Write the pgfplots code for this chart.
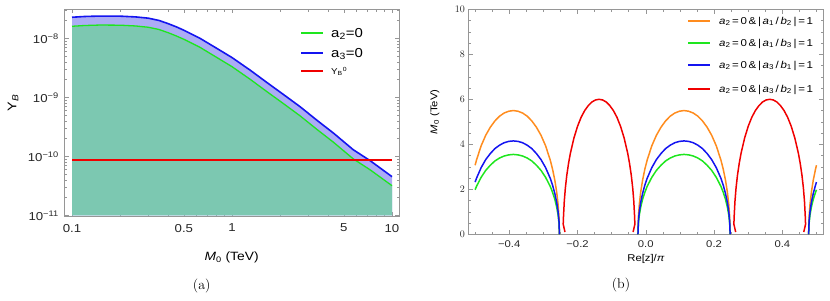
\documentclass[border=0pt]{standalone}
\usepackage{fontspec}
\usepackage{pgfplots}
\usepackage{pgfplotstable}
\pgfplotsset{compat=1.18}
\newfontfamily\af[FakeStretch=1.15]{Liberation Sans}
\definecolor{tealfill}{RGB}{124,200,177}
\definecolor{lavfill}{RGB}{172,172,245}
\definecolor{framegray}{RGB}{150,150,150}
\definecolor{orng}{RGB}{255,140,30}
\definecolor{grn}{RGB}{30,230,30}
\definecolor{blu}{RGB}{20,20,240}
\definecolor{rd}{RGB}{240,0,0}
\newcommand{\lgt}[4]{\textit{a}\textsubscript{2}\,=\,0\,\&\,|\,\textit{#1}\textsubscript{#2}\,/\,\textit{#3}\textsubscript{#4}\,|\,=\,1}

\pgfplotstableread{
x y
0.1 2.29e-8
0.12 2.36e-8
0.15 2.40e-8
0.2 2.39e-8
0.25 2.32e-8
0.3 2.21e-8
0.35 2.02e-8
0.4 1.78e-8
0.45 1.57e-8
0.5 1.38e-8
0.63 1.01e-8
0.8 6.85e-9
1.0 4.75e-9
1.3 2.9e-9
1.65 1.8e-9
2.1 1.12e-9
2.66 7.0e-10
3.4 4.1e-10
4.3 2.5e-10
5.73 1.3e-10
7.3 8.5e-11
10 4.55e-11
}\tblue

\pgfplotstableread{
x y
0.1 1.61e-8
0.12 1.66e-8
0.15 1.69e-8
0.2 1.68e-8
0.25 1.63e-8
0.3 1.55e-8
0.35 1.42e-8
0.4 1.25e-8
0.45 1.10e-8
0.5 9.7e-9
0.63 7.1e-9
0.8 4.8e-9
1.0 3.33e-9
1.3 2.03e-9
1.65 1.26e-9
2.1 7.85e-10
2.66 4.9e-10
3.4 2.87e-10
4.3 1.75e-10
5.73 9.1e-11
7.3 5.95e-11
10 3.2e-11
}\tgreen

\pgfplotstableread{
x o b g
-0.5 3.07 2.32 1.98
-0.496 3.30 2.49 2.13
-0.4825 3.93 2.96 2.53
-0.469 4.40 3.32 2.84
-0.4555 4.76 3.59 3.07
-0.442 5.04 3.81 3.26
-0.4285 5.25 3.96 3.39
-0.415 5.39 4.07 3.48
-0.4015 5.47 4.13 3.53
-0.388 5.50 4.15 3.55
-0.3745 5.47 4.13 3.53
-0.361 5.39 4.07 3.48
-0.3475 5.25 3.96 3.39
-0.334 5.04 3.81 3.26
-0.3205 4.76 3.59 3.07
-0.307 4.40 3.32 2.84
-0.2935 3.93 2.96 2.53
-0.280 3.30 2.49 2.13
-0.27325 2.90 2.19 1.87
-0.2665 2.40 1.81 1.55
-0.2611 1.88 1.42 1.21
-0.25705 1.34 1.01 0.86
-0.25435 0.78 0.59 0.50
-0.253 0 0 0
-0.14 nan nan nan
-0.023 0 0 0
-0.02165 0.78 0.59 0.50
-0.01895 1.34 1.01 0.86
-0.0149 1.88 1.42 1.21
-0.0095 2.40 1.81 1.55
-0.00275 2.90 2.19 1.87
0.004 3.30 2.49 2.13
0.0175 3.93 2.96 2.53
0.031 4.40 3.32 2.84
0.0445 4.76 3.59 3.07
0.058 5.04 3.81 3.26
0.0715 5.25 3.96 3.39
0.085 5.39 4.07 3.48
0.0985 5.47 4.13 3.53
0.112 5.50 4.15 3.55
0.1255 5.47 4.13 3.53
0.139 5.39 4.07 3.48
0.1525 5.25 3.96 3.39
0.166 5.04 3.81 3.26
0.1795 4.76 3.59 3.07
0.193 4.40 3.32 2.84
0.2065 3.93 2.96 2.53
0.220 3.30 2.49 2.13
0.22675 2.90 2.19 1.87
0.2335 2.40 1.81 1.55
0.2389 1.88 1.42 1.21
0.24295 1.34 1.01 0.86
0.24565 0.78 0.59 0.50
0.247 0 0 0
0.36 nan nan nan
0.477 0 0 0
0.47835 0.78 0.59 0.50
0.48105 1.34 1.01 0.86
0.4851 1.88 1.42 1.21
0.4905 2.40 1.81 1.55
0.49725 2.90 2.19 1.87
0.5 3.07 2.32 1.98
}\tobg

\pgfplotstableread{
x r
-0.23675 0.10
-0.242 0.45
-0.24095 0.85
-0.23885 1.46
-0.2357 2.05
-0.2315 2.62
-0.22625 3.16
-0.221 3.60
-0.2105 4.28
-0.2 4.80
-0.1895 5.20
-0.179 5.50
-0.1685 5.72
-0.158 5.88
-0.1475 5.97
-0.137 6.00
-0.1265 5.97
-0.116 5.88
-0.1055 5.72
-0.095 5.50
-0.0845 5.20
-0.074 4.80
-0.0635 4.28
-0.053 3.60
-0.04775 3.16
-0.0425 2.62
-0.0383 2.05
-0.03515 1.46
-0.03305 0.85
-0.032 0.45
-0.03725 0.10
0.1 nan
0.26325 0.10
0.258 0.45
0.25905 0.85
0.26115 1.46
0.2643 2.05
0.2685 2.62
0.27375 3.16
0.279 3.60
0.2895 4.28
0.3 4.80
0.3105 5.20
0.321 5.50
0.3315 5.72
0.342 5.88
0.3525 5.97
0.363 6.00
0.3735 5.97
0.384 5.88
0.3945 5.72
0.405 5.50
0.4155 5.20
0.426 4.80
0.4365 4.28
0.447 3.60
0.45225 3.16
0.4575 2.62
0.4617 2.05
0.46485 1.46
0.46695 0.85
0.468 0.45
0.46275 0.10
}\tred

\begin{document}
\begin{tikzpicture}[x=1pt,y=1pt]
\useasboundingbox (0,0) rectangle (830,300);

% ---------- (a) ----------
\begin{axis}[
  at={(64.3pt,84pt)}, anchor=south west, scale only axis,
  width=334.7pt, height=207pt,
  xmode=log, ymode=log,
  xmin=0.0895, xmax=11.06, ymin=0.98e-11, ymax=3.16e-8,
  axis line style={framegray, line width=0.6pt},
  tick style={framegray, line width=0.5pt},
  major tick length=4.5pt, minor tick length=2.5pt, tick align=inside,
  tick pos=both, xticklabel pos=lower, yticklabel pos=left,
  xtick={0.1,0.5,1,5,10}, xticklabels={0.1,0.5,1,5,10},
  minor xtick={0.2,0.3,0.4,0.6,0.7,0.8,0.9,2,3,4,6,7,8,9},
  ytick={1e-11,1e-10,1e-9,1e-8},
  yticklabels={10\textsuperscript{−11},10\textsuperscript{−10},10\textsuperscript{−9},10\textsuperscript{−8}},
  minor ytick={2e-11,3e-11,4e-11,5e-11,6e-11,7e-11,8e-11,9e-11,
    2e-10,3e-10,4e-10,5e-10,6e-10,7e-10,8e-10,9e-10,
    2e-9,3e-9,4e-9,5e-9,6e-9,7e-9,8e-9,9e-9,2e-8,3e-8},
  tick label style={font=\af\fontsize{11.5}{12}\selectfont, text=black!85},
  xticklabel style={yshift=-4.5pt},
  yticklabel style={xshift=-2pt},
  xlabel={\textit{M}\textsubscript{0} (TeV)},
  xlabel style={font=\af\fontsize{12}{12}\selectfont, at={(axis description cs:0.5,-0.2)}, anchor=center},
  ylabel={Y\textsubscript{\textit{B}}},
  ylabel style={font=\af\fontsize{12.5}{12}\selectfont, at={(axis description cs:-0.153,0.546)}, anchor=center},
]
\addplot[draw=none, fill=lavfill] table {\tblue} -- (axis cs:10,1e-11) -- (axis cs:0.1,1e-11) -- cycle;
\addplot[draw=none, fill=tealfill] table {\tgreen} -- (axis cs:10,1e-11) -- (axis cs:0.1,1e-11) -- cycle;
\addplot[grn, line width=1.3pt] table {\tgreen};
\addplot[blu, line width=1.6pt] table {\tblue};
\addplot[rd, line width=1.4pt] coordinates {(0.1,8.7e-11) (10,8.7e-11)};
\end{axis}

% legend (a)
\draw[grn, line width=2pt] (301,267) -- (323,267);
\node[anchor=base west, inner sep=0pt, font=\af\fontsize{13}{13}\selectfont] at (331,262.4) {a\textsubscript{2}=0};
\draw[blu, line width=2pt] (301,247) -- (323,247);
\node[anchor=base west, inner sep=0pt, font=\af\fontsize{13}{13}\selectfont] at (331,242.4) {a\textsubscript{3}=0};
\draw[rd, line width=2pt] (301,229) -- (323,229);
\node[anchor=base west, inner sep=0pt, font=\af\fontsize{8.5}{9}\selectfont] at (331,225.7) {Y\textsubscript{B}\textsuperscript{0}};

% ---------- (b) ----------
\begin{axis}[
  at={(468.3pt,65.7pt)}, anchor=south west, scale only axis,
  width=355pt, height=225pt,
  xmin=-0.52, xmax=0.52, ymin=0, ymax=10,
  axis line style={framegray, line width=0.6pt},
  tick style={framegray, line width=0.5pt},
  major tick length=4.5pt, minor tick length=2.5pt, tick align=inside,
  tick pos=both, xticklabel pos=lower, yticklabel pos=left,
  xtick={-0.4,-0.2,0,0.2,0.4}, xticklabels={−0.4,−0.2,0.0,0.2,0.4},
  minor xtick={-0.5,-0.45,-0.35,-0.3,-0.25,-0.15,-0.1,-0.05,0.05,0.1,0.15,0.25,0.3,0.35,0.45,0.5},
  ytick={0,2,4,6,8,10}, minor y tick num=3,
  tick label style={font=\af\fontsize{9.8}{10}\selectfont, text=black!85},
  xticklabel style={yshift=-2.5pt},
  xlabel={Re[z]/\textit{π}},
  xlabel style={font=\af\fontsize{9.8}{10}\selectfont, at={(axis description cs:0.5006,-0.11)}, anchor=center},
  ylabel={\textit{M}\textsubscript{0} (TeV)},
  ylabel style={font=\af\fontsize{9.8}{10}\selectfont, at={(axis description cs:-0.094,0.544)}, anchor=center},
  unbounded coords=jump,
]
\addplot[orng, line width=1.5pt] table[x=x, y=o] {\tobg};
\addplot[grn, line width=1.5pt] table[x=x, y=g] {\tobg};
\addplot[blu, line width=1.5pt] table[x=x, y=b] {\tobg};
\addplot[rd, line width=1.5pt] table[x=x, y=r] {\tred};
\end{axis}

% legend (b)
\draw[orng, line width=2pt] (688,279) -- (710,279);
\node[anchor=base west, inner sep=0pt, font=\af\fontsize{10}{10}\selectfont] at (719,275.5) {\lgt{a}{1}{b}{2}};
\draw[grn, line width=2pt] (688,257) -- (710,257);
\node[anchor=base west, inner sep=0pt, font=\af\fontsize{10}{10}\selectfont] at (719,253.5) {\lgt{a}{1}{b}{3}};
\draw[blu, line width=2pt] (688,235) -- (710,235);
\node[anchor=base west, inner sep=0pt, font=\af\fontsize{10}{10}\selectfont] at (719,231.5) {\lgt{a}{3}{b}{1}};
\draw[rd, line width=2pt] (688,211) -- (710,211);
\node[anchor=base west, inner sep=0pt, font=\af\fontsize{10}{10}\selectfont] at (719,207.5) {\lgt{a}{3}{b}{2}};

\node[font=\fontsize{14}{14}\selectfont] at (201.7,14) {(a)};
\node[font=\fontsize{14}{14}\selectfont] at (621,15) {(b)};
\end{tikzpicture}
\end{document}
